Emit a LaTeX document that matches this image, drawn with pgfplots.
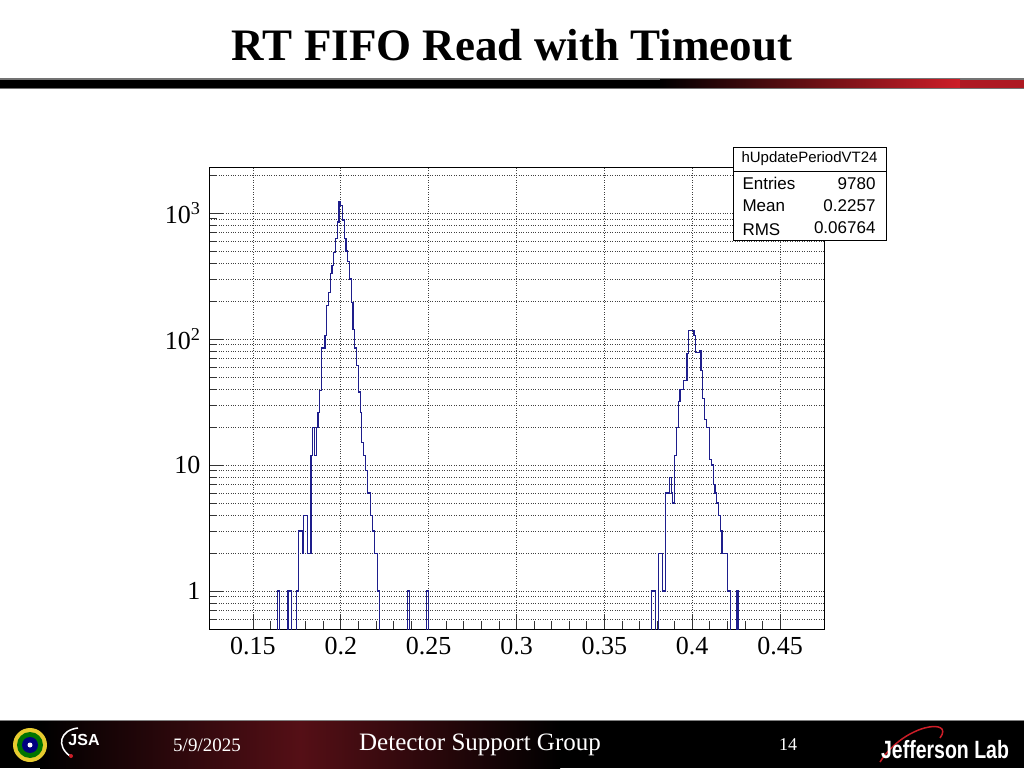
\documentclass[border=0pt]{standalone}
\usepackage{fontspec}
\setmainfont{Liberation Serif}
\newfontfamily\helv{Liberation Sans}
\usepackage{pgfplots}
\usepackage{pgfplotstable}
\pgfplotsset{compat=1.18}

\definecolor{histblue}{RGB}{30,30,140}
\definecolor{jlabred}{RGB}{205,30,40}

% bin left edge, content (0.01 = empty bin, below the axis)
\pgfplotstableread{
x y
0.125 0.01
0.164 1
0.165 0.01
0.170 1
0.172 0.01
0.175 1
0.176 3
0.177 3
0.178 2
0.179 4
0.180 4
0.181 2
0.182 2
0.183 12
0.184 20
0.185 12
0.186 20
0.187 26
0.188 39
0.189 85
0.190 85
0.191 107
0.192 186
0.193 235
0.194 330
0.195 385
0.196 490
0.197 630
0.198 850
0.199 1230
0.200 1150
0.201 880
0.202 630
0.203 500
0.204 410
0.205 300
0.206 195
0.207 120
0.208 85
0.209 62
0.210 38
0.211 26
0.212 15
0.213 12
0.214 9
0.215 6
0.216 6
0.217 4
0.218 3
0.219 2
0.220 2
0.221 1
0.222 0.01
0.238 1
0.239 0.01
0.249 1
0.250 0.01
0.377 1
0.378 1
0.379 0.01
0.381 2
0.382 2
0.383 1
0.384 1
0.385 6
0.386 6
0.387 8
0.388 6
0.389 5
0.390 12
0.391 20
0.392 32
0.393 40
0.394 40
0.395 47
0.396 47
0.397 77
0.398 117
0.399 117
0.400 117
0.401 107
0.402 78
0.403 78
0.404 81
0.405 56
0.406 34
0.407 23
0.408 20
0.409 20
0.410 11
0.411 10
0.412 7
0.413 6
0.414 5
0.415 4
0.416 3
0.417 2
0.418 2
0.419 2
0.420 1
0.421 1
0.422 0.01
0.425 1
0.426 0.01
0.475 0.01
}\histdata

\begin{document}
\begin{tikzpicture}[x=1pt,y=1pt]
\useasboundingbox (0,0) rectangle (1024,768);
\fill[white] (0,0) rectangle (1024,768);

% slide title and header bar
\node[font=\fontsize{45}{50}\selectfont\bfseries, anchor=base] at (512,707) {RT FIFO Read with Timeout};
\fill[black!55] (0,679) rectangle (1024,690);
\fill[black] (0,680) rectangle (1024,688);
\shade[left color=black, right color=jlabred] (660,680) rectangle (960,688);
\fill[jlabred!85!black] (960,680) rectangle (1024,688);

\begin{axis}[
    at={(209pt,139pt)}, anchor=south west,
    scale only axis, width=615pt, height=461pt,
    xmin=0.125, xmax=0.475,
    ymode=log, ymin=0.5, ymax=2280,
    xtick={0.15,0.2,0.25,0.3,0.35,0.4,0.45},
    xticklabels={0.15,0.2,0.25,0.3,0.35,0.4,0.45},
    minor x tick num=4,
    ytick={1,10,100,1000},
    yticklabels={1,10,10\textsuperscript{2},10\textsuperscript{3}},
    minor ytick={0.6,0.7,0.8,0.9,2,3,4,5,6,7,8,9,20,30,40,50,60,70,80,90,200,300,400,500,600,700,800,900,2000},
    tick pos=left, tick align=inside,
    major tick length=14pt, minor tick length=8pt,
    xmajorgrids, ymajorgrids, yminorgrids,
    major grid style={black!75, dotted, line width=0.7pt},
    minor grid style={black!75, dotted, line width=0.7pt},
    axis line style={black, line width=1pt},
    every tick/.style={black!80, line width=0.8pt},
    tick label style={font=\fontsize{26}{26}\selectfont},
    xticklabel style={yshift=-5pt},
    yticklabel style={xshift=-5pt},
]
\addplot[histblue, line width=1.2pt, const plot] table[x=x, y=y] {\histdata};
\end{axis}

% statistics box
\filldraw[fill=white, draw=black, line width=0.8pt] (733,528) rectangle (886,621);
\draw[line width=0.8pt] (733,597) -- (886,597);
\begin{scope}[font=\helv\fontsize{17}{18}\selectfont]
\node[font=\helv\fontsize{15}{16}\selectfont] at (809.5,609) {hUpdatePeriodVT24};
\node[anchor=base west] at (739,578) {Entries};
\node[anchor=base east] at (879,578) {9780};
\node[anchor=base west] at (739,556) {Mean};
\node[anchor=base east] at (879,556) {0.2257};
\node[anchor=base west] at (739,532) {RMS};
\node[anchor=base east] at (879,534) {0.06764};
\end{scope}

% footer
\fill[black] (0,0) rectangle (1024,48);
\shade[left color=black, right color=black, middle color={rgb,255:red,85;green,15;blue,22}] (40,0) rectangle (560,48);
\draw[black!50, line width=1pt] (0,48) -- (1024,48);
% DOE seal
\fill[yellow!60!brown] (30,23) circle (17);
\fill[green!45!black] (30,23) circle (13);
\fill[blue!50!black] (30,23) circle (8);
\fill[white] (30,23) circle (2.5);
% JSA mark
\draw[white, line width=1.5pt] (70,12) .. controls (56,22) and (60,38) .. (78,40);
\fill[jlabred] (71,12) circle (2);
\node[white, font=\helv\bfseries\fontsize{16}{16}\selectfont] at (84,28) {JSA};
% footer text
\node[white, font=\fontsize{19}{20}\selectfont, anchor=base] at (207,17) {5/9/2025};
\node[white, font=\fontsize{25}{26}\selectfont, anchor=base] at (480,18) {Detector Support Group};
\node[white, font=\fontsize{18}{18}\selectfont, anchor=base] at (788,18) {14};
\draw[jlabred, line width=1.5pt] (880,6) .. controls (905,45) and (955,50) .. (940,30);
\node[white, font=\helv\bfseries\fontsize{25}{26}\selectfont, anchor=base, xscale=0.78] at (945,10) {Jefferson Lab};
\end{tikzpicture}
\end{document}
